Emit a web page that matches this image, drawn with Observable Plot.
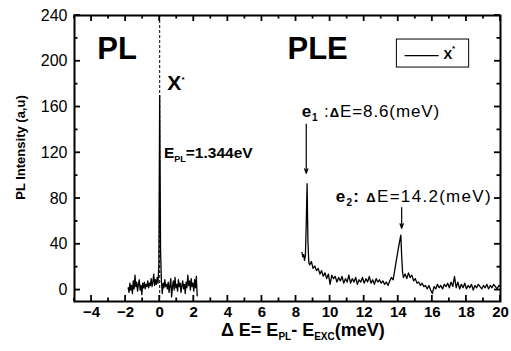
<!DOCTYPE html>
<html>
<head>
<meta charset="utf-8">
<script src="https://cdn.jsdelivr.net/npm/d3@7"></script>
<script src="https://cdn.jsdelivr.net/npm/@observablehq/plot@0.6"></script>
<style>
  body { margin: 0; background: #fff; }
  svg text { white-space: pre; }
</style>
</head>
<body>
<div id="chart"></div>
<script>
// PL spectrum around the detection energy (ΔE in meV, intensity in a.u.)
const plX = [-1.85,-1.8,-1.75,-1.7,-1.65,-1.6,-1.55,-1.5,-1.45,-1.4,-1.35,-1.3,-1.25,-1.2,-1.15,-1.1,-1.05,-1,
  -0.95,-0.9,-0.85,-0.8,-0.75,-0.7,-0.65,-0.6,-0.55,-0.5,-0.45,-0.4,-0.35,-0.3,-0.25,-0.2,-0.15,-0.1,-0.05,0,
  0.05,0.1,0.15,0.2,0.25,0.3,0.35,0.4,0.45,0.5,0.55,0.6,0.65,0.7,0.75,0.8,0.85,0.9,0.95,1,1.05,1.1,1.15,1.2,
  1.25,1.3,1.35,1.4,1.45,1.5,1.55,1.6,1.65,1.7,1.75,1.8,1.85,1.9,1.95,2,2.05,2.1,2.15,2.2];
const plY = [2,-2,6,0,4,-3,8,1,13,3,7,-1,5,9,0,4,-4,6,
  2,7,1,5,3,8,2,6,4,10,3,7,14,4,9,5,11,6,22,170,
  35,8,-3,6,2,9,3,5,1,7,-2,4,10,-6,3,8,0,11,2,5,-1,9,3,6,
  -2,4,8,1,5,-3,7,2,13,4,8,0,10,3,6,-1,9,2,12,-5];

// PLE spectrum (excitation scanned above the detection energy)
const pleX = [8.35,8.4,8.45,8.5,8.55,8.6,8.65,8.7,8.75,8.8,8.9,9,9.1,9.2,9.3,9.4,9.5,9.6,9.7,9.8,9.9,
  10,10.1,10.2,10.3,10.4,10.5,10.6,10.7,10.8,10.9,11,11.1,11.2,11.3,11.4,11.5,11.6,11.7,11.8,11.9,
  12,12.1,12.2,12.3,12.4,12.5,12.6,12.7,12.8,12.9,13,13.1,13.2,13.3,13.4,13.5,13.6,13.7,13.8,13.9,
  14,14.1,14.15,14.2,14.25,14.3,14.4,14.5,14.6,14.7,14.8,14.9,15,15.1,15.2,15.3,15.4,15.5,15.6,15.7,
  15.8,15.9,16,16.1,16.2,16.3,16.4,16.5,16.6,16.7,16.8,16.9,17,17.1,17.2,17.3,17.4,17.5,17.6,17.7,
  17.8,17.9,18,18.1,18.2,18.3,18.4,18.5,18.6,18.7,18.8,18.9,19,19.1,19.2,19.3,19.4,19.5,19.6,19.7,
  19.8,19.9,20];
const pleY = [33,29,31,26,30,58,93,42,24,22,25,19,21,17,19,14,17,12,15,10,14,
  5,13,10,12,7,11,8,12,6,10,7,13,6,10,7,11,5,9,7,11,
  6,10,7,12,6,9,5,10,7,9,6,8,5,7,4,8,11,9,18,27,
  36,44,48,30,16,11,14,10,15,11,13,8,10,6,7,4,6,3,4,1,
  4,0,-3,3,1,5,2,4,1,5,3,6,2,7,3,12,2,7,1,5,
  2,6,1,4,2,5,0,4,2,5,3,1,4,2,5,1,4,2,5,3,
  1,4,3];

// Excited states marked on the PLE trace (ΔE in meV)
const stateNames = ["e1", "e2"];
const stateEnergies = [8.6, 14.2];

// Axis ticks
const xMajor = [-4,-2,0,2,4,6,8,10,12,14,16,18,20];
const xMinor = [-5,-3,-1,1,3,5,7,9,11,13,15,17,19];
const yMajor = [0,40,80,120,160,200,240];
const yMinor = [20,60,100,140,180,220];

const W = 511, H = 351;
const M = {top: 15, right: 11, bottom: 50, left: 74};

const font = "Arial, 'Liberation Sans', Helvetica, sans-serif";
const pl = plX.map((x, i) => ({x, y: plY[i]}));
const ple = pleX.map((x, i) => ({x, y: pleY[i]}));

// Text with sub/superscripts: a plain Plot.text mark, rebuilt into tspans after rendering
const richNotes = [];
function richText(pieces, options, spacing = 0) {
  const plain = pieces.map(p => p[0]).join("");
  richNotes.push({plain, pieces, spacing});
  return Plot.text([plain], {text: d => d, fill: "black", ...options});
}
const SUB = (size, weight) => ({size, weight, shift: 4});
const SUP = (size, weight) => ({size, weight, shift: -8});

const chart = Plot.plot({
  width: W,
  height: H,
  marginLeft: M.left,
  marginRight: M.right,
  marginTop: M.top,
  marginBottom: M.bottom,
  style: {fontFamily: font, background: "white", color: "black", overflow: "visible"},
  x: {domain: [-5, 20]},
  y: {domain: [-10, 240]},
  marks: [
    // detection energy
    Plot.ruleX([0], {strokeDasharray: "3,2", strokeWidth: 1, stroke: "black"}),
    // spectra
    Plot.line(pl, {x: "x", y: "y", stroke: "black", strokeWidth: 1.3}),
    Plot.line(ple, {x: "x", y: "y", stroke: "black", strokeWidth: 1.3}),
    // tick labels
    Plot.axisX(xMajor, {anchor: "bottom", tickSize: 0, tickPadding: 5, fontSize: 15, fontWeight: "bold", label: null}),
    Plot.axisY(yMajor, {anchor: "left", tickSize: 0, tickPadding: 7, fontSize: 16, label: null}),
    Plot.frame({stroke: "black", strokeWidth: 2}),
    // axis titles
    richText([["Δ E= E"], ["PL", SUB(10)], ["- E", {shift: 0}], ["EXC", SUB(10)], ["(meV)", {shift: 0}]],
      {x: 8.4, frameAnchor: "bottom", textAnchor: "middle", lineAnchor: "middle", dy: 29, fontSize: 18, fontWeight: "bold"}),
    Plot.text(["PL Intensity (a,u)"], {frameAnchor: "left", textAnchor: "middle", lineAnchor: "middle",
      rotate: -90, dx: -54, dy: -11, fontSize: 13, fontWeight: "bold", fill: "black"}),
    // panel labels
    Plot.text(["PL"], {x: -3.66, y: 211, textAnchor: "start", fontSize: 31, fontWeight: "bold", fill: "black"}),
    Plot.text(["PLE"], {x: 7.5, y: 211, textAnchor: "start", fontSize: 31, fontWeight: "bold", fill: "black"}),
    richText([["X"], ["*", SUP(12)]], {x: 0.45, y: 181, textAnchor: "start", fontSize: 21, fontWeight: "bold"}),
    richText([["E"], ["PL", SUB(9)], ["=1.344eV", {shift: 0}]],
      {x: 0.25, y: 119.5, textAnchor: "start", fontSize: 15.5, fontWeight: "bold"}),
    // excited-state annotations
    richText([["e", {weight: "bold"}], ["1", SUB(10, "bold")], [" :", {shift: 0, weight: "normal"}], ["Δ", {shift: 0, size: 13, weight: "bold"}], ["E=8.6(meV)", {shift: 0}]],
      {x: 8.33, y: 156, textAnchor: "start", fontSize: 17}, 0.9),
    richText([["e", {weight: "bold"}], ["2", SUB(10, "bold")], [": ", {shift: 0, weight: "bold"}], ["Δ", {shift: 0, size: 13, weight: "bold"}], ["E=14.2(meV)", {shift: 0}]],
      {x: 10.33, y: 81.5, textAnchor: "start", fontSize: 17}, 1.3),
    Plot.arrow([stateEnergies[0]], {x1: d => d, x2: d => d, y1: 145, y2: 102, stroke: "black", strokeWidth: 1.2, headLength: 6, headAngle: 40}),
    Plot.arrow([stateEnergies[1]], {x1: d => d, x2: d => d, y1: 72, y2: 54, stroke: "black", strokeWidth: 1.2, headLength: 6, headAngle: 40}),
    // legend
    Plot.rect([0], {x1: 13.92, x2: 18.16, y1: 194.5, y2: 219, stroke: "black", fill: "white", strokeWidth: 1}),
    Plot.ruleY([205], {x1: 14.4, x2: 16.4, stroke: "black", strokeWidth: 1.2}),
    richText([["X"], ["*", SUP(8)]], {x: 16.65, y: 206, textAnchor: "start", fontSize: 13, fontWeight: "bold"})
  ]
});

// rebuild sub/superscripted labels
const NS = "http://www.w3.org/2000/svg";
for (const {plain, pieces, spacing} of richNotes) {
  for (const t of chart.querySelectorAll("text")) {
    if (t.textContent !== plain) continue;
    t.textContent = "";
    if (spacing) t.setAttribute("letter-spacing", spacing);
    let cur = 0;
    for (const [s, o = {}] of pieces) {
      const ts = document.createElementNS(NS, "tspan");
      ts.textContent = s;
      const shift = o.shift === undefined ? cur : o.shift;
      if (shift !== cur) ts.setAttribute("dy", shift - cur);
      cur = shift;
      if (o.size) ts.setAttribute("font-size", o.size);
      if (o.weight) ts.setAttribute("font-weight", o.weight);
      t.appendChild(ts);
    }
  }
}

// inward ticks on all four sides, placed through the chart's own scales
const sx = chart.scale("x"), sy = chart.scale("y");
const x0 = M.left, x1 = W - M.right, y0 = M.top, y1 = H - M.bottom;
const ticksG = d3.select(chart).append("g").attr("stroke", "black").attr("stroke-width", 1.8);
const addTicks = (values, len) => {
  for (const v of values) {
    const px = sx.apply(v);
    ticksG.append("line").attr("x1", px).attr("x2", px).attr("y1", y1).attr("y2", y1 - len);
    ticksG.append("line").attr("x1", px).attr("x2", px).attr("y1", y0).attr("y2", y0 + len);
  }
};
const addTicksY = (values, len) => {
  for (const v of values) {
    const py = sy.apply(v);
    ticksG.append("line").attr("y1", py).attr("y2", py).attr("x1", x0).attr("x2", x0 + len);
    ticksG.append("line").attr("y1", py).attr("y2", py).attr("x1", x1).attr("x2", x1 - len);
  }
};
addTicks(xMajor, 6); addTicks(xMinor, 3.5);
addTicksY(yMajor, 6); addTicksY(yMinor, 3.5);

document.getElementById("chart").appendChild(chart);
</script>
</body>
</html>
